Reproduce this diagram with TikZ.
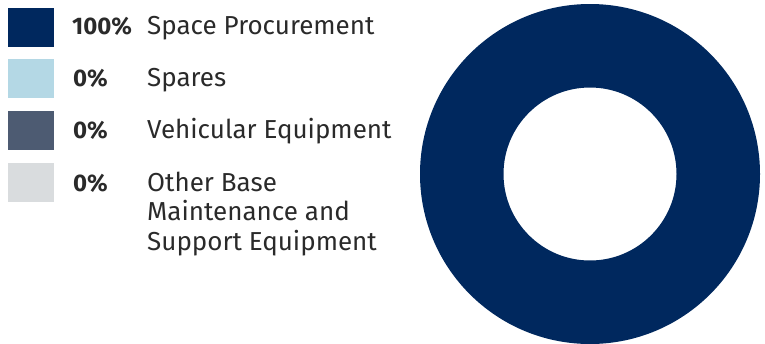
\documentclass[tikz,border=0pt]{standalone}
\usepackage{xcolor}
\usepackage{fontspec}
\setmainfont{Fira Sans}
\usetikzlibrary{positioning}
\definecolor{navy}{HTML}{00285E}
\definecolor{skyblue}{HTML}{B4D8E5}
\definecolor{slate}{HTML}{4D5B72}
\definecolor{lightgray}{HTML}{D9DCDE}
\definecolor{inkgray}{HTML}{2A2A2A}

\begin{document}
\begin{tikzpicture}[x=1pt,y=-1pt]
	\tikzstyle{swatch}=[rectangle,minimum width=46pt,minimum height=39pt,inner sep=0pt,anchor=north west]
	\tikzstyle{pct}=[anchor=base west,inner sep=0pt,text=inkgray,font=\fontsize{24}{29.5}\selectfont\bfseries]
	\tikzstyle{lbl}=[anchor=base west,inner sep=0pt,text=inkgray,align=left,font=\fontsize{26}{29.5}\selectfont]
	\useasboundingbox (0,0) rectangle (765,343);
	% legend
	\node[swatch,fill=navy](s1) at (8,8){};
	\node[swatch,fill=skyblue](s2) at (8,59){};
	\node[swatch,fill=slate](s3) at (8,111){};
	\node[swatch,fill=lightgray](s4) at (8,163){};
	\node[pct](p1) at (72,34.5){100\%};
	\node[pct](p2) at (73,86.5){0\%};
	\node[pct](p3) at (73,138.5){0\%};
	\node[pct](p4) at (73,191){0\%};
	\node[lbl](l1) at (147,34.5){Space Procurement};
	\node[lbl](l2) at (147,86.5){Spares};
	\node[lbl](l3) at (147,138.5){Vehicular Equipment};
	\node[lbl](l4) at (147,250){Other Base\\Maintenance and\\Support Equipment};
	% donut
	\coordinate (c) at (590,174);
	\fill[navy,even odd rule] (c) circle[radius=170pt] (c) circle[radius=86.5pt];
\end{tikzpicture}
\end{document}
